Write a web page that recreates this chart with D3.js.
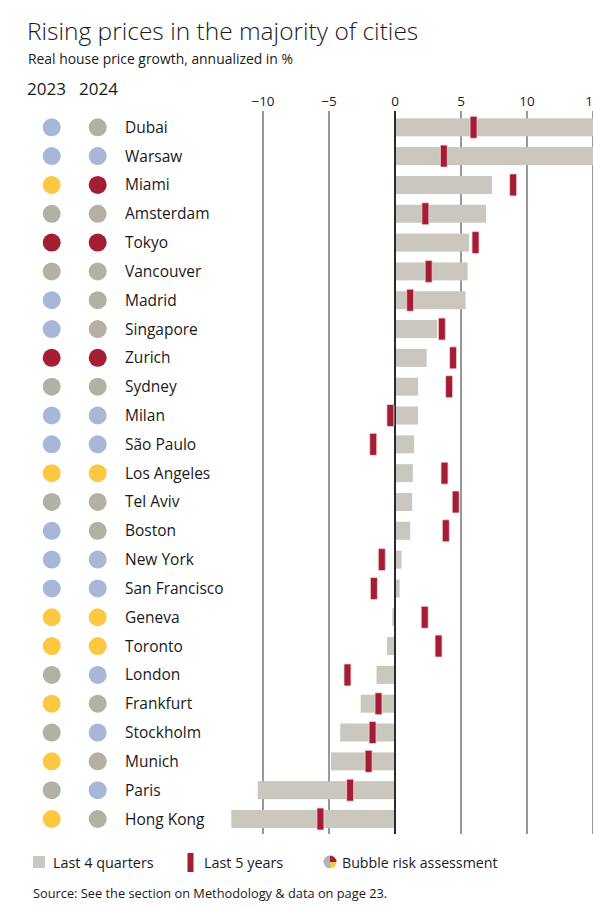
<!DOCTYPE html>
<html><head><meta charset="utf-8">
<script src="https://cdn.jsdelivr.net/npm/d3@7"></script>
<style>
html,body{margin:0;padding:0;background:#fff;}
svg{display:block;font-family:"Open Sans","Noto Sans",sans-serif;}
</style></head>
<body><svg id="c" width="593" height="908"></svg>
<script>
const cities = ["Dubai","Warsaw","Miami","Amsterdam","Tokyo","Vancouver","Madrid","Singapore","Zurich","Sydney","Milan","São Paulo","Los Angeles","Tel Aviv","Boston","New York","San Francisco","Geneva","Toronto","London","Frankfurt","Stockholm","Munich","Paris","Hong Kong"];
const last4Quarters = [16.5,16.5,7.35,6.9,5.6,5.5,5.35,3.2,2.4,1.75,1.75,1.45,1.35,1.3,1.15,0.5,0.35,-0.2,-0.6,-1.4,-2.6,-4.15,-4.85,-10.4,-12.4];
const last5Years = [5.95,3.7,8.95,2.3,6.1,2.55,1.15,3.55,4.4,4.1,-0.35,-1.65,3.75,4.6,3.85,-1.0,-1.6,2.25,3.3,-3.6,-1.25,-1.7,-2.0,-3.4,-5.65];
const risk2023 = ["low","low","elevated","moderate","high","moderate","low","low","high","moderate","low","low","elevated","moderate","low","low","low","elevated","elevated","moderate","elevated","moderate","elevated","moderate","elevated"];
const risk2024 = ["moderate","low","high","moderate","high","moderate","moderate","moderate","high","moderate","low","low","elevated","moderate","moderate","low","low","elevated","elevated","low","moderate","low","moderate","low","moderate"];
const tickValues = [-10,-5,0,5,10,15];

const riskColor = {low:"#a8b7d8", moderate:"#b3b0a4", elevated:"#fdc840", high:"#a41f33"};
const barColor = "#c9c7be";
const markColor = "#a51d34";

const svg = d3.select("#c");
const x = d3.scaleLinear().domain([-10,15]).range([263,593]);
const y = d3.scalePoint().domain(cities).range([127.3,819]);

// title
svg.append("text").attr("x",27).attr("y",40).attr("font-size",24.5).attr("font-weight",300).attr("fill","#1a1a1a").text("Rising prices in the majority of cities");
svg.append("text").attr("x",28).attr("y",64).attr("font-size",13.9).attr("fill","#1a1a1a").text("Real house price growth, annualized in %");
svg.append("text").attr("x",27).attr("y",95).attr("font-size",17).attr("fill","#1a1a1a").text("2023");
svg.append("text").attr("x",79).attr("y",95).attr("font-size",17).attr("fill","#1a1a1a").text("2024");

// grid
const g = svg.append("g");
g.selectAll("line.grid").data(tickValues).join("line")
  .attr("x1",d=>x(d)).attr("x2",d=>x(d))
  .attr("y1",111).attr("y2",834)
  .attr("stroke",d=>d===0?"#2b2b2b":"#555")
  .attr("stroke-width",d=>d===0?2:1.2);
g.selectAll("text.tick").data(tickValues).join("text")
  .attr("x",d=>x(d)).attr("y",106).attr("text-anchor","middle")
  .attr("font-size",13.5).attr("fill","#1a1a1a")
  .text(d=>d<0?"\u2212"+Math.abs(d):d);

// bars
const bh = 18;
svg.append("g").selectAll("rect").data(cities).join("rect")
  .attr("x",(d,i)=>Math.min(x(0),x(last4Quarters[i])))
  .attr("width",(d,i)=>Math.abs(x(last4Quarters[i])-x(0)))
  .attr("y",d=>y(d)-bh/2).attr("height",bh)
  .attr("fill",barColor);
svg.append("line").attr("x1",x(0)).attr("x2",x(0)).attr("y1",111).attr("y2",834).attr("stroke","#2b2b2b").attr("stroke-width",2);

// markers
svg.append("g").selectAll("rect").data(cities).join("rect")
  .attr("x",(d,i)=>x(last5Years[i])-3.5)
  .attr("width",7)
  .attr("y",d=>y(d)-11).attr("height",22)
  .attr("rx",1)
  .attr("fill",markColor).attr("stroke","#f4d6d6").attr("stroke-width",0.8);

// bubbles
const bub = svg.append("g");
bub.selectAll("circle.a").data(cities).join("circle")
  .attr("cx",51.7).attr("cy",d=>y(d)).attr("r",9)
  .attr("fill",(d,i)=>riskColor[risk2023[i]]);
bub.selectAll("circle.b").data(cities).join("circle")
  .attr("cx",97.7).attr("cy",d=>y(d)).attr("r",9)
  .attr("fill",(d,i)=>riskColor[risk2024[i]]);
bub.selectAll("text").data(cities).join("text")
  .attr("x",125).attr("y",d=>y(d)+5.5).attr("font-size",15.5).attr("fill","#1a1a1a")
  .text(d=>d);

// legend
const lg = svg.append("g");
lg.append("rect").attr("x",33).attr("y",856).attr("width",12).attr("height",12).attr("fill",barColor);
lg.append("text").attr("x",53).attr("y",868).attr("font-size",14.4).attr("fill","#1a1a1a").text("Last 4 quarters");
lg.append("rect").attr("x",187.5).attr("y",853).attr("width",6).attr("height",19).attr("fill",markColor);
lg.append("text").attr("x",204).attr("y",868).attr("font-size",14.4).attr("fill","#1a1a1a").text("Last 5 years");
const pie = lg.append("g").attr("transform","translate(330,862)");
const arc = d3.arc().innerRadius(0).outerRadius(6.5);
const pieData = d3.pie().sort(null)([1,1,1,1]);
const pieCols = [riskColor.high, riskColor.elevated, riskColor.low, riskColor.moderate];
pie.selectAll("path").data(pieData).join("path").attr("d",arc).attr("fill",(d,i)=>pieCols[i]);
lg.append("text").attr("x",342).attr("y",868).attr("font-size",14.2).attr("fill","#1a1a1a").text("Bubble risk assessment");
svg.append("text").attr("x",33).attr("y",898).attr("font-size",12.8).attr("fill","#1a1a1a").text("Source: See the section on Methodology & data on page 23.");
</script></body></html>
